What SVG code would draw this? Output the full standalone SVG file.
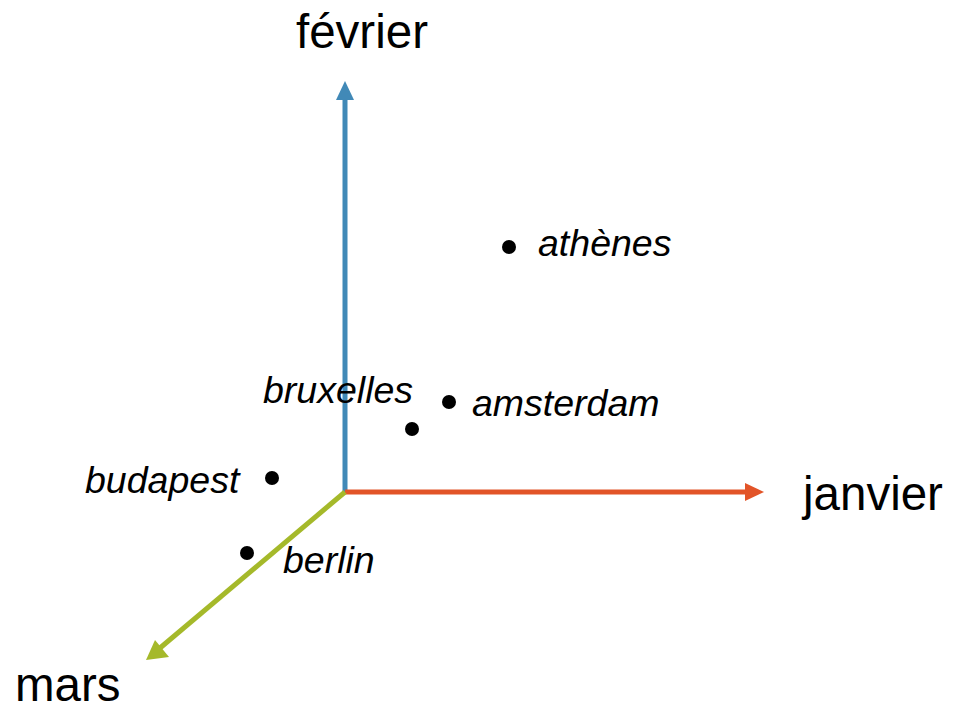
<svg xmlns="http://www.w3.org/2000/svg" width="957" height="707" viewBox="0 0 957 707">
<style>
.ax{font-family:"Liberation Sans",Arial,sans-serif;font-size:47.5px;fill:#000}
.lb{font-family:"Liberation Sans",Arial,sans-serif;font-size:37.5px;font-style:italic;fill:#000}
.dot{fill:#000}
</style>
<rect width="957" height="707" fill="#fff"/>
<g id="connectors">
<line x1="345" y1="492" x2="345" y2="98" stroke="#4189b7" stroke-width="5"/>
<polygon points="345,81 354,100 336,100" fill="#4189b7"/>
<line x1="345" y1="492" x2="747" y2="492" stroke="#e25428" stroke-width="5"/>
<polygon points="764,492 745,483 745,501" fill="#e25428"/>
<line x1="345" y1="492" x2="160" y2="648" stroke="#a5b92a" stroke-width="5"/>
<polygon points="146,660 155,640 169,657" fill="#a5b92a"/>
</g>
<g id="axis-fevrier"><text class="ax" x="296" y="48">février</text></g>
<g id="axis-janvier"><text class="ax" x="803" y="510">janvier</text></g>
<g id="axis-mars"><text class="ax" x="15" y="701">mars</text></g>
<g id="athenes"><circle class="dot" cx="509" cy="247" r="7"/><text class="lb" x="538" y="256">athènes</text></g>
<g id="amsterdam"><circle class="dot" cx="449" cy="402" r="7"/><text class="lb" x="472" y="416">amsterdam</text></g>
<g id="bruxelles"><circle class="dot" cx="412" cy="429" r="7"/><text class="lb" x="263" y="403">bruxelles</text></g>
<g id="budapest"><circle class="dot" cx="272" cy="478" r="7"/><text class="lb" x="85" y="493">budapest</text></g>
<g id="berlin"><circle class="dot" cx="247" cy="553" r="7"/><text class="lb" x="283" y="573">berlin</text></g>
</svg>
